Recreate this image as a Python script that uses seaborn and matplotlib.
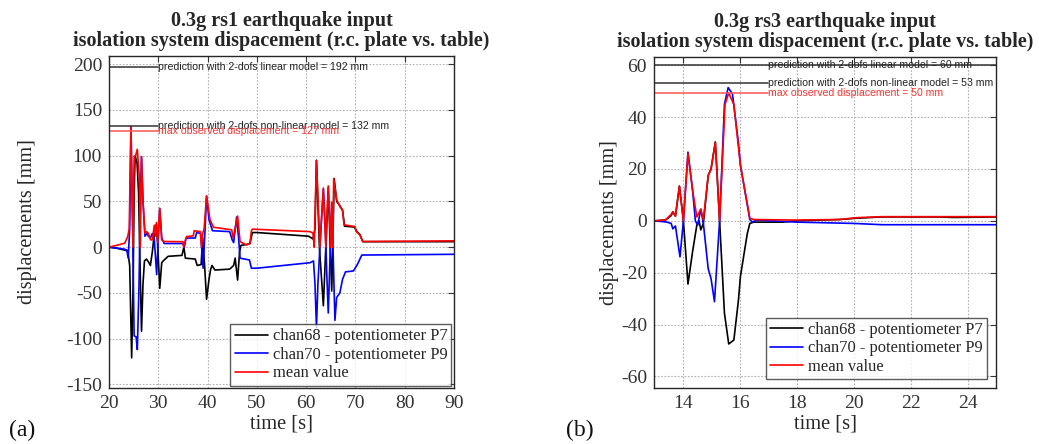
import matplotlib
matplotlib.use("Agg")
import matplotlib.pyplot as plt
import seaborn as sns
import pandas as pd

# (a) 0.3g rs1 - keypoints (time [s], displacement [mm])
a_black_t = [20.0, 21.5, 23.0, 23.8, 24.2, 24.6, 24.9, 25.1, 25.3, 25.7, 26.0, 26.3, 26.6, 26.9, 27.2,
             27.6, 28.0, 28.4, 28.8, 29.2, 29.6, 29.9, 30.3, 30.7, 31.0, 32.0, 34.8, 35.2, 35.5, 37.5,
             37.9, 38.7, 39.0, 39.4, 39.8, 40.3, 40.6, 40.9, 41.5, 44.5, 45.3, 45.6, 46.1, 46.5, 46.8,
             48.0, 48.6, 49.1, 50.0, 60.5, 61.4, 61.8, 62.1, 62.7, 63.5, 64.0, 64.5, 64.9, 65.2, 65.4,
             65.7, 66.2, 66.9, 67.4, 67.8, 69.8, 70.3, 70.9, 71.5, 90.0]
a_black = [0, -1, -3, -4, -20, -121, -40, 60, 100, 92, 60, -20, -92, -40, -15,
           -13, -16, -20, -5, 15, 25, 0, -45, -17, -15, -10, -9, 0, -12, -13,
           -20, -19, 10, -20, -57, -35, -25, -20, -25, -24, -20, -12, -36, -5, 2,
           3, 4, 16, 16, 12, 9, 20, 95, 0, -64, 0, 65, 0, -48, 0,
           75, 50, 45, 40, 23, 22, 17, 14, 6, 6]

a_blue_t = [20.0, 21.5, 23.0, 23.6, 23.9, 24.2, 24.46, 24.8, 25.1, 25.5, 25.75, 26.1, 26.4, 26.6, 26.9,
            27.3, 27.7, 28.0, 28.4, 28.8, 29.2, 29.67, 30.0, 30.3, 30.7, 31.2, 35.0, 35.3, 35.6, 37.5,
            37.8, 38.6, 39.1, 39.5, 39.8, 40.3, 41.0, 44.5, 45.0, 45.3, 45.9, 46.3, 46.6, 47.5, 48.5,
            48.9, 50.0, 60.8, 61.5, 61.8, 62.1, 62.4, 63.0, 63.5, 63.9, 64.2, 64.5, 64.8, 65.2, 65.4,
            65.85, 66.2, 66.85, 67.4, 68.0, 69.6, 70.4, 71.3, 90.0]
a_blue = [0, -1, -2, -3, -12, 20, 132, 20, -97, -98, -112, -40, 60, 99, 50,
          12, 15, 12, 10, 15, 8, -30, 10, 42, 10, 4, 4, 0, 10, 10,
          16, 15, -23, 20, 56, 30, 18, 17, 8, 5, 33, 10, -12, -13, -14,
          -23, -23, -17, -15, -40, -88, -40, 20, 64, 20, -30, -72, -20, 49, 10,
          -80, -55, -50, -35, -27, -26, -19, -8.6, -7.8]

a_red_t = [20.0, 21.9, 23.2, 23.8, 24.1, 24.46, 24.87, 25.1, 25.4, 25.75, 26.15, 26.35, 26.6, 26.9, 27.3,
           27.6, 28.0, 28.45, 28.8, 29.2, 29.4, 29.65, 29.9, 30.3, 30.7, 31.2, 35.0, 35.15, 35.75, 37.1,
           37.3, 38.5, 38.8, 39.0, 39.3, 39.8, 40.5, 41.2, 44.9, 45.2, 46.1, 46.6, 47.9, 48.6, 48.9,
           49.1, 60.8, 61.4, 61.65, 62.1, 62.8, 63.5, 64.0, 64.5, 65.0, 65.2, 65.4, 65.6, 66.2, 66.9,
           67.4, 67.7, 69.9, 70.2, 70.9, 71.5, 90.0]
a_red = [0, 2.5, 4.4, 11.6, 20, 132, 0, 99, 100, 107, 77, 0, 99, 50, 15,
         17, 15, 8, 8, 24, 12, 27, 5, 42.6, 8, 6.2, 6, 0, 11.6, 12.4,
         18, 17, 0, 15, 20, 56, 30, 21.8, 19, 10, 34, 6, 2.5, 4, 18,
         19.7, 17, 15.3, 0, 95, 0, 64.5, 0, 67, 0, 49, 0, 75, 52, 44,
         40.8, 24.4, 22.6, 17, 13.5, 6.2, 6.9]

# (b) 0.3g rs3
b_black_t = [13.0, 13.4, 13.6, 13.66, 13.75, 13.89, 14.03, 14.19, 14.35, 14.5, 14.58, 14.64, 14.73, 14.9,
             15.0, 15.15, 15.3, 15.47, 15.62, 15.8, 15.96, 16.03, 16.27, 16.36, 16.5, 17.5, 18.0, 19.5,
             20.1, 21.0, 23.0, 23.5, 25.0]
b_black = [0, 0.3, 2, 3.5, 1.8, 13.4, 0, -24.4, -12, -1.7, 0, -3.5, -1, 17.5,
           20, 30.4, 0, -35.7, -47.5, -46, -30.7, -21.5, -5, -1, -0.5, -0.5, 0, 0.5,
           1, 1.5, 1.5, 1.3, 1.5]

b_blue_t = [13.0, 13.3, 13.45, 13.6, 13.66, 13.75, 13.91, 14.03, 14.19, 14.35, 14.45, 14.53, 14.64, 14.73,
            14.9, 15.0, 15.12, 15.3, 15.47, 15.6, 15.75, 15.96, 16.03, 16.36, 16.45, 16.6, 18.0, 20.0,
            21.0, 25.0]
b_blue = [0, -0.3, -0.5, -1, -3.1, -2, -13.9, 0, 26.5, 12, 0, -1.7, 4.5, -1,
          -18.5, -22.3, -31.2, 0, 45, 51.4, 49, 30, 21.5, 0.5, -0.5, 0.3, -0.5, -1.0,
          -1.5, -1.5]

b_red_t = [13.0, 13.4, 13.6, 13.66, 13.75, 13.89, 14.03, 14.19, 14.35, 14.5, 14.64, 14.73, 14.9, 15.0,
           15.15, 15.3, 15.49, 15.62, 15.8, 16.03, 16.36, 16.5, 18.0, 19.5, 20.1, 21.0, 23.0, 25.0]
b_red = [0, 0.3, 2.5, 3.5, 1.8, 13.4, 0, 26, 12, 1.5, 4.5, 0.4, 17.5, 20,
         30.4, 0, 44.9, 49.3, 44.9, 21.5, 1, 0.5, 0.3, 0.5, 1.2, 1.6, 1.6, 1.6]

series_labels = ["chan68 - potentiometer P7", "chan70 - potentiometer P9", "mean value"]
series_colors = ["#000000", "#0000ff", "#ff0000"]

titles = ["0.3g rs1 earthquake input\nisolation system dispacement (r.c. plate vs. table)",
          "0.3g rs3 earthquake input\nisolation system dispacement (r.c. plate vs. table)"]

# reference levels: (value, label text)
a_levels = [196.5, 132, 127]
a_level_text = ["prediction with 2-dofs linear model = 192 mm",
                "prediction with 2-dofs non-linear model = 132 mm",
                "max observed displacement = 127 mm"]
b_levels = [60, 53, 49.5]
b_level_text = ["prediction with 2-dofs linear model = 60 mm",
                "prediction with 2-dofs non-linear model = 53 mm",
                "max observed displacement = 50 mm"]

sns.set_style("white")
plt.rcParams["font.family"] = ["Liberation Serif", "DejaVu Serif"]
plt.rcParams["axes.unicode_minus"] = False

fig = plt.figure(figsize=(10.39, 4.44), dpi=100, facecolor="white")
ax_a = fig.add_axes([0.1049, 0.1261, 0.332, 0.7477])
ax_b = fig.add_axes([0.6295, 0.1261, 0.3292, 0.7455])


def draw(ax, data, xlim, ylim, xticks, yticks, title, levels, level_text, level_end, full_first,
         ylabelpad, legpad):
    for (t, v), lab, col in zip(data, series_labels, series_colors):
        df = pd.DataFrame({"t": t, "v": v})
        sns.lineplot(data=df, x="t", y="v", ax=ax, color=col, lw=1.2, label=lab,
                     estimator=None, sort=False)
    ax.set_xlim(*xlim)
    ax.set_ylim(*ylim)
    ax.set_xticks(xticks)
    ax.set_yticks(yticks)
    ax.grid(True, linestyle=(0, (1.5, 1.5)), color="#b0b0b0", lw=0.8)
    ax.tick_params(direction="in", top=True, right=True, length=4, labelsize=14,
                   colors="#333333", pad=5)
    for s in ax.spines.values():
        s.set_color("#262626")
        s.set_linewidth(1.0)
    ax.set_xlabel("time [s]", fontsize=14.7, color="#262626", labelpad=2)
    ax.set_ylabel("displacements [mm]", fontsize=14.6, color="#262626", labelpad=ylabelpad)
    ax.set_title(title, fontsize=14.5, fontweight="bold", pad=7, linespacing=1.0)

    lvl_cols = ["#333333", "#333333", "#ff5555"]
    for i, (lv, txt, c) in enumerate(zip(levels, level_text, lvl_cols)):
        x_end = xlim[1] if (full_first and i == 0) else level_end
        ax.plot([xlim[0], x_end], [lv, lv], color=c, lw=1.1)
        ax.text(level_end, lv, txt, fontsize=7.6, color="#222222" if i < 2 else "#ff3333",
                family=["Liberation Sans", "DejaVu Sans"], va="center", ha="left")

    leg = ax.legend(loc="lower right", fontsize=11.9, frameon=True, fancybox=False,
                    handlelength=2.0, handletextpad=0.3, borderpad=0.25, labelspacing=0.15,
                    borderaxespad=legpad)
    leg.get_frame().set_edgecolor("#333333")
    leg.get_frame().set_linewidth(1.0)


draw(ax_a, [(a_black_t, a_black), (a_blue_t, a_blue), (a_red_t, a_red)],
     (20, 90), (-154, 209), range(20, 91, 10), range(-150, 201, 50), titles[0],
     a_levels, a_level_text, 30, False, 21, 0.15)
draw(ax_b, [(b_black_t, b_black), (b_blue_t, b_blue), (b_red_t, b_red)],
     (13, 25), (-64.5, 63.2), range(14, 25, 2), range(-60, 61, 20), titles[1],
     b_levels, b_level_text, 17, True, 1, 0.55)

fig.text(0.009, 0.018, "(a)", fontsize=17, color="#111111")
fig.text(0.545, 0.018, "(b)", fontsize=17, color="#111111")

fig.savefig("out.png", dpi=100, facecolor="white")
